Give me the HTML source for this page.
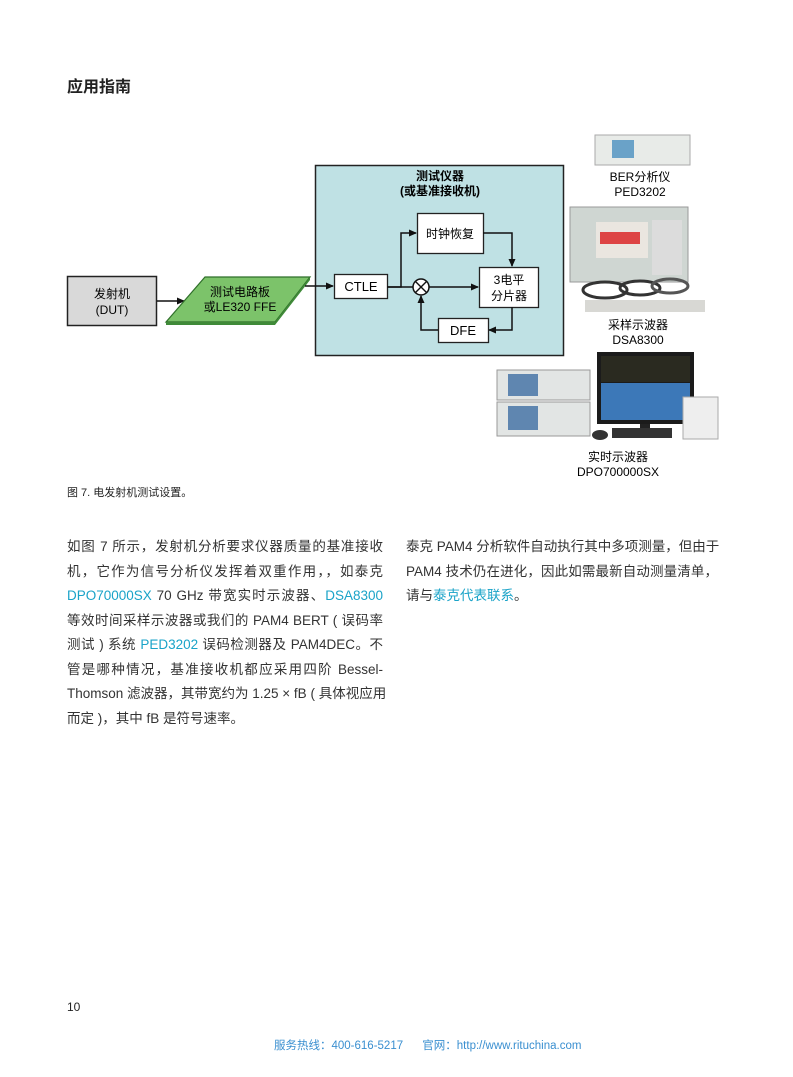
<!DOCTYPE html>
<html><head><meta charset="utf-8"><style>
body{margin:0;width:793px;height:1077px;background:#fff;position:relative;font-family:"Liberation Sans","Noto Sans CJK SC",sans-serif;color:#222;overflow:hidden}
.a{position:absolute}
.p{font-size:13.5px;line-height:24.5px;color:#333}
.p div{white-space:nowrap;text-align:justify;text-align-last:justify}
.p div.e{text-align-last:left}
.l{color:#1aa3c8}
</style></head><body>
<div class="a" style="left:67px;top:73px;font-size:16px;font-weight:bold">应用指南</div>

<svg class="a" style="left:0;top:0" width="793" height="480" font-family="Liberation Sans,Noto Sans CJK SC,sans-serif">
<defs><marker id="m" markerWidth="8" markerHeight="8" refX="7" refY="4" orient="auto" markerUnits="userSpaceOnUse"><path d="M0,0.5 L8,4 L0,7.5z" fill="#111"/></marker></defs>
<rect x="315.5" y="165.5" width="248" height="190" fill="#bfe1e4" stroke="#222" stroke-width="1.5"/>
<text x="440" y="180" font-size="12" font-weight="bold" text-anchor="middle">测试仪器</text>
<text x="440" y="195" font-size="12" font-weight="bold" text-anchor="middle">(或基准接收机)</text>
<rect x="67.5" y="276.5" width="89" height="49" fill="#d9d9d9" stroke="#222" stroke-width="1.5"/>
<text x="112" y="298" font-size="12" text-anchor="middle">发射机</text>
<text x="112" y="314" font-size="12" text-anchor="middle">(DUT)</text>
<line x1="157" y1="301" x2="184" y2="301" stroke="#111" stroke-width="1.5" marker-end="url(#m)"/>
<polygon points="166,322 205,277 310,277 275,322" fill="#7cc36a" stroke="#2f6f2a" stroke-width="1.2"/>
<polygon points="166,322 275,322 275,325 166,325" fill="#3f8a38"/>
<polygon points="275,322 310,277 310,280 275,325" fill="#3f8a38"/>
<text x="240" y="296" font-size="12" text-anchor="middle">测试电路板</text>
<text x="240" y="311" font-size="12" text-anchor="middle">或LE320 FFE</text>
<line x1="305" y1="286" x2="333" y2="286" stroke="#111" stroke-width="1.5" marker-end="url(#m)"/>
<rect x="334.5" y="274.5" width="53" height="24" fill="#fff" stroke="#222" stroke-width="1.3"/>
<text x="361" y="291" font-size="13" text-anchor="middle">CTLE</text>
<polyline points="387,287 401,287 401,233 416,233" fill="none" stroke="#111" stroke-width="1.5" marker-end="url(#m)"/>
<line x1="387" y1="287" x2="413" y2="287" stroke="#111" stroke-width="1.5"/>
<rect x="417.5" y="213.5" width="66" height="40" fill="#fff" stroke="#222" stroke-width="1.3"/>
<text x="450" y="238" font-size="12" text-anchor="middle">时钟恢复</text>
<polyline points="483,233 512,233 512,266" fill="none" stroke="#111" stroke-width="1.5" marker-end="url(#m)"/>
<circle cx="421" cy="287" r="8" fill="#fff" stroke="#111" stroke-width="1.5"/>
<line x1="415.5" y1="281.5" x2="426.5" y2="292.5" stroke="#111" stroke-width="1.4"/>
<line x1="426.5" y1="281.5" x2="415.5" y2="292.5" stroke="#111" stroke-width="1.4"/>
<line x1="429" y1="287" x2="478" y2="287" stroke="#111" stroke-width="1.5" marker-end="url(#m)"/>
<rect x="479.5" y="267.5" width="59" height="40" fill="#fff" stroke="#222" stroke-width="1.3"/>
<text x="509" y="284" font-size="12" text-anchor="middle">3电平</text>
<text x="509" y="300" font-size="12" text-anchor="middle">分片器</text>
<polyline points="512,307 512,330 489,330" fill="none" stroke="#111" stroke-width="1.5" marker-end="url(#m)"/>
<rect x="438.5" y="318.5" width="50" height="24" fill="#fff" stroke="#222" stroke-width="1.3"/>
<text x="463" y="335" font-size="13" text-anchor="middle">DFE</text>
<polyline points="438,330 421,330 421,296" fill="none" stroke="#111" stroke-width="1.5" marker-end="url(#m)"/>

<rect x="595" y="135" width="95" height="30" fill="#e8ebe8" stroke="#aaa"/>
<rect x="612" y="140" width="22" height="18" fill="#6aa2c8"/>
<text x="640" y="181" font-size="12" text-anchor="middle">BER分析仪</text>
<text x="640" y="196" font-size="12" text-anchor="middle">PED3202</text>
<rect x="570" y="207" width="118" height="75" fill="#cfd6d2" stroke="#999"/>
<rect x="596" y="222" width="52" height="36" fill="#eae6e0"/>
<rect x="600" y="232" width="40" height="12" fill="#d44"/>
<rect x="652" y="220" width="30" height="55" fill="#dcdcdc"/>
<ellipse cx="605" cy="290" rx="22" ry="8" fill="none" stroke="#333" stroke-width="3"/>
<ellipse cx="640" cy="288" rx="20" ry="7" fill="none" stroke="#333" stroke-width="3"/>
<ellipse cx="670" cy="286" rx="18" ry="7" fill="none" stroke="#555" stroke-width="3"/>
<rect x="585" y="300" width="120" height="12" fill="#d8d8d4"/>
<text x="638" y="329" font-size="12" text-anchor="middle">采样示波器</text>
<text x="638" y="344" font-size="12" text-anchor="middle">DSA8300</text>
<rect x="497" y="370" width="93" height="30" fill="#e2e5e4" stroke="#999"/>
<rect x="508" y="374" width="30" height="22" fill="#5f86b0"/>
<rect x="497" y="402" width="93" height="34" fill="#e2e5e4" stroke="#999"/>
<rect x="508" y="406" width="30" height="24" fill="#5f86b0"/>
<rect x="597" y="352" width="97" height="72" fill="#1b1b1b"/>
<rect x="601" y="356" width="89" height="26" fill="#2a2a20"/>
<rect x="601" y="383" width="89" height="37" fill="#3c78b8"/>
<rect x="640" y="424" width="10" height="8" fill="#222"/>
<rect x="612" y="428" width="60" height="10" fill="#333"/>
<ellipse cx="600" cy="435" rx="8" ry="5" fill="#333"/>
<rect x="683" y="397" width="35" height="42" fill="#eee" stroke="#aaa"/>
<text x="618" y="461" font-size="12" text-anchor="middle">实时示波器</text>
<text x="618" y="476" font-size="12" text-anchor="middle">DPO700000SX</text>
</svg>

<div class="a" style="left:67px;top:484px;font-size:11px">图 7. 电发射机测试设置。</div>

<div class="a p" style="left:67px;top:535px;width:316px">
<div>如图 7 所示，发射机分析要求仪器质量的基准接收</div>
<div>机，它作为信号分析仪发挥着双重作用，，如泰克</div>
<div><span class="l">DPO70000SX</span> 70 GHz 带宽实时示波器、<span class="l">DSA8300</span></div>
<div>等效时间采样示波器或我们的 PAM4 BERT ( 误码率</div>
<div>测试 ) 系统 <span class="l">PED3202</span> 误码检测器及 PAM4DEC。不</div>
<div>管是哪种情况，基准接收机都应采用四阶 Bessel-</div>
<div>Thomson 滤波器，其带宽约为 1.25 × fB ( 具体视应用</div>
<div class="e">而定 )，其中 fB 是符号速率。</div>
</div>
<div class="a p" style="left:406px;top:535px;width:312px">
<div>泰克 PAM4 分析软件自动执行其中多项测量，但由于</div>
<div>PAM4 技术仍在进化，因此如需最新自动测量清单，</div>
<div class="e">请与<span class="l">泰克代表联系</span>。</div>
</div>

<div class="a" style="left:67px;top:1000px;font-size:12px">10</div>
<div class="a" style="left:274px;top:1037px;font-size:11.5px;color:#3a8fd0;white-space:pre">服务热线：400-616-5217      官网：http://www.rituchina.com</div>
</body></html>
